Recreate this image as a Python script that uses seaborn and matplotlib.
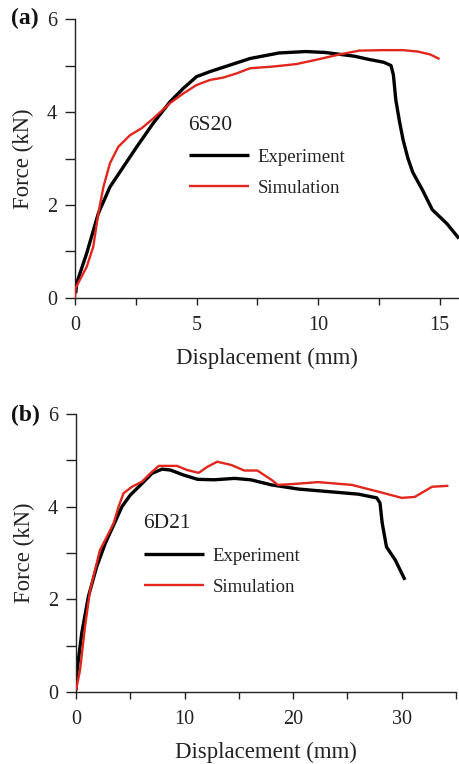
import numpy as np
import pandas as pd
import matplotlib
matplotlib.use("Agg")
import matplotlib.pyplot as plt
import seaborn as sns

sns.set_theme(style="ticks")
plt.rcParams['font.family'] = ['Liberation Serif', 'DejaVu Serif']

# Panel (a) 6S20
a_exp_x = [0.03, 0.07, 0.48, 0.96, 1.44, 1.99, 2.54, 3.22, 3.91, 4.46, 5.0, 5.56, 6.38, 7.2, 8.4, 9.5, 10.3, 10.9, 11.5, 12.1, 12.7, 13.0, 13.1, 13.2, 13.35, 13.5, 13.7, 13.9, 14.3, 14.7, 15.3, 15.8]
a_exp_y = [0.1, 0.32, 0.96, 1.82, 2.39, 2.82, 3.25, 3.76, 4.22, 4.51, 4.76, 4.87, 5.01, 5.15, 5.27, 5.3, 5.28, 5.24, 5.2, 5.13, 5.07, 5.0, 4.8, 4.26, 3.8, 3.4, 3.0, 2.7, 2.32, 1.9, 1.6, 1.28]
a_sim_x = [0.0, 0.02, 0.2, 0.48, 0.75, 0.96, 1.17, 1.44, 1.78, 2.26, 2.74, 3.22, 3.91, 4.46, 5.0, 5.56, 6.1, 6.65, 7.2, 8.2, 9.1, 9.9, 10.9, 11.7, 12.6, 13.5, 14.1, 14.6, 15.0]
a_sim_y = [0.0, 0.21, 0.39, 0.67, 1.1, 1.82, 2.39, 2.9, 3.25, 3.5, 3.65, 3.86, 4.19, 4.4, 4.58, 4.69, 4.74, 4.83, 4.94, 4.98, 5.03, 5.12, 5.24, 5.32, 5.33, 5.33, 5.3, 5.24, 5.14]

# Panel (b) 6D21
b_exp_x = [0.0, 0.1, 0.53, 1.14, 1.9, 2.7, 3.46, 4.23, 5.0, 6.08, 7.0, 7.93, 8.7, 9.94, 11.2, 12.7, 14.6, 16.1, 18.0, 20.5, 23.5, 26.0, 27.7, 28.0, 28.2, 28.6, 29.4, 30.3]
b_exp_y = [0.04, 0.47, 1.27, 2.06, 2.7, 3.21, 3.6, 4.0, 4.25, 4.5, 4.72, 4.81, 4.79, 4.68, 4.59, 4.58, 4.61, 4.58, 4.47, 4.38, 4.32, 4.27, 4.19, 4.08, 3.65, 3.13, 2.85, 2.42]
b_sim_x = [0.0, 0.37, 0.83, 1.3, 2.2, 2.84, 3.46, 3.92, 4.38, 5.16, 6.08, 6.85, 7.62, 8.4, 9.3, 10.25, 11.3, 12.1, 13.0, 14.3, 15.5, 16.7, 18.0, 18.6, 20.1, 22.3, 25.4, 27.9, 30.0, 31.2, 32.8, 34.3]
b_sim_y = [0.04, 0.47, 1.41, 2.2, 3.06, 3.35, 3.64, 4.0, 4.29, 4.43, 4.54, 4.72, 4.88, 4.88, 4.88, 4.79, 4.73, 4.86, 4.97, 4.9, 4.78, 4.78, 4.58, 4.47, 4.49, 4.53, 4.47, 4.32, 4.19, 4.21, 4.43, 4.45]

series_names = ["Experiment", "Simulation"]
colors = {"Experiment": "#000000", "Simulation": "#e3261c"}
widths = {"Experiment": 2.4, "Simulation": 1.7}
TXT = "#222222"

fig = plt.figure(figsize=(4.59, 7.64), dpi=100)
ax1 = fig.add_axes([75/459, 1-298/764, 1-75/459, (298-19)/764])
ax2 = fig.add_axes([76/459, 1-692/764, (456-76)/459, (692-414)/764])

def draw(ax, ex, ey, sx, sy, title, xlim, xmaj, xmin, leg_anchor, label, label_y):
    df = pd.concat([
        pd.DataFrame({"x": ex, "y": ey, "s": "Experiment"}),
        pd.DataFrame({"x": sx, "y": sy, "s": "Simulation"}),
    ])
    for name in series_names:
        sub = df[df.s == name]
        sns.lineplot(data=sub, x="x", y="y", ax=ax, sort=False, estimator=None,
                     color=colors[name], lw=widths[name], label=name,
                     solid_joinstyle="round", solid_capstyle="butt",
                     zorder=3 if name == "Simulation" else 2)
    ax.set_xlim(*xlim)
    ax.set_ylim(0, 6)
    ax.set_xticks(xmaj)
    ax.set_xticks(xmin, minor=True)
    ax.set_yticks([0, 2, 4, 6])
    ax.set_yticks([1, 3, 5], minor=True)
    for s in ["top", "right"]:
        ax.spines[s].set_visible(False)
    for s in ["left", "bottom"]:
        ax.spines[s].set_linewidth(1.0)
        ax.spines[s].set_color(TXT)
    ax.tick_params(axis="both", which="both", direction="out", colors=TXT, labelsize=14.5, width=1.0)
    ax.tick_params(axis="y", which="both", length=7, pad=6)
    ax.tick_params(axis="x", which="both", length=5, pad=8)
    ax.set_xlabel("Displacement (mm)", fontsize=16.4, color=TXT, labelpad=9)
    ax.set_ylabel("Force (kN)", fontsize=16.4, color=TXT, labelpad=9)
    leg = ax.legend(title=title, loc="upper left", bbox_to_anchor=leg_anchor, frameon=False,
                    fontsize=13.5, title_fontsize=15.5, handlelength=3.2, handletextpad=0.5,
                    labelspacing=0.75, borderaxespad=0, alignment="left")
    for t in leg.get_texts():
        t.set_color(TXT)
    leg.get_title().set_color(TXT)
    fig.text(11/459, label_y, label, fontsize=17, fontweight="bold",
             ha="left", va="center", color="#111111")

draw(ax1, a_exp_x, a_exp_y, a_sim_x, a_sim_y, "6S20", (0, 15.8), [0, 5, 10, 15], [2.5, 7.5, 12.5],
     ((181-75)/384, (298-108)/279), "(a)", 1-18/764)
draw(ax2, b_exp_x, b_exp_y, b_sim_x, b_sim_y, "6D21", (0, 35), [0, 10, 20, 30], [5, 15, 25, 35],
     ((136-76)/380, (692-507)/278), "(b)", 1-415/764)

fig.savefig("out.png", dpi=100)
